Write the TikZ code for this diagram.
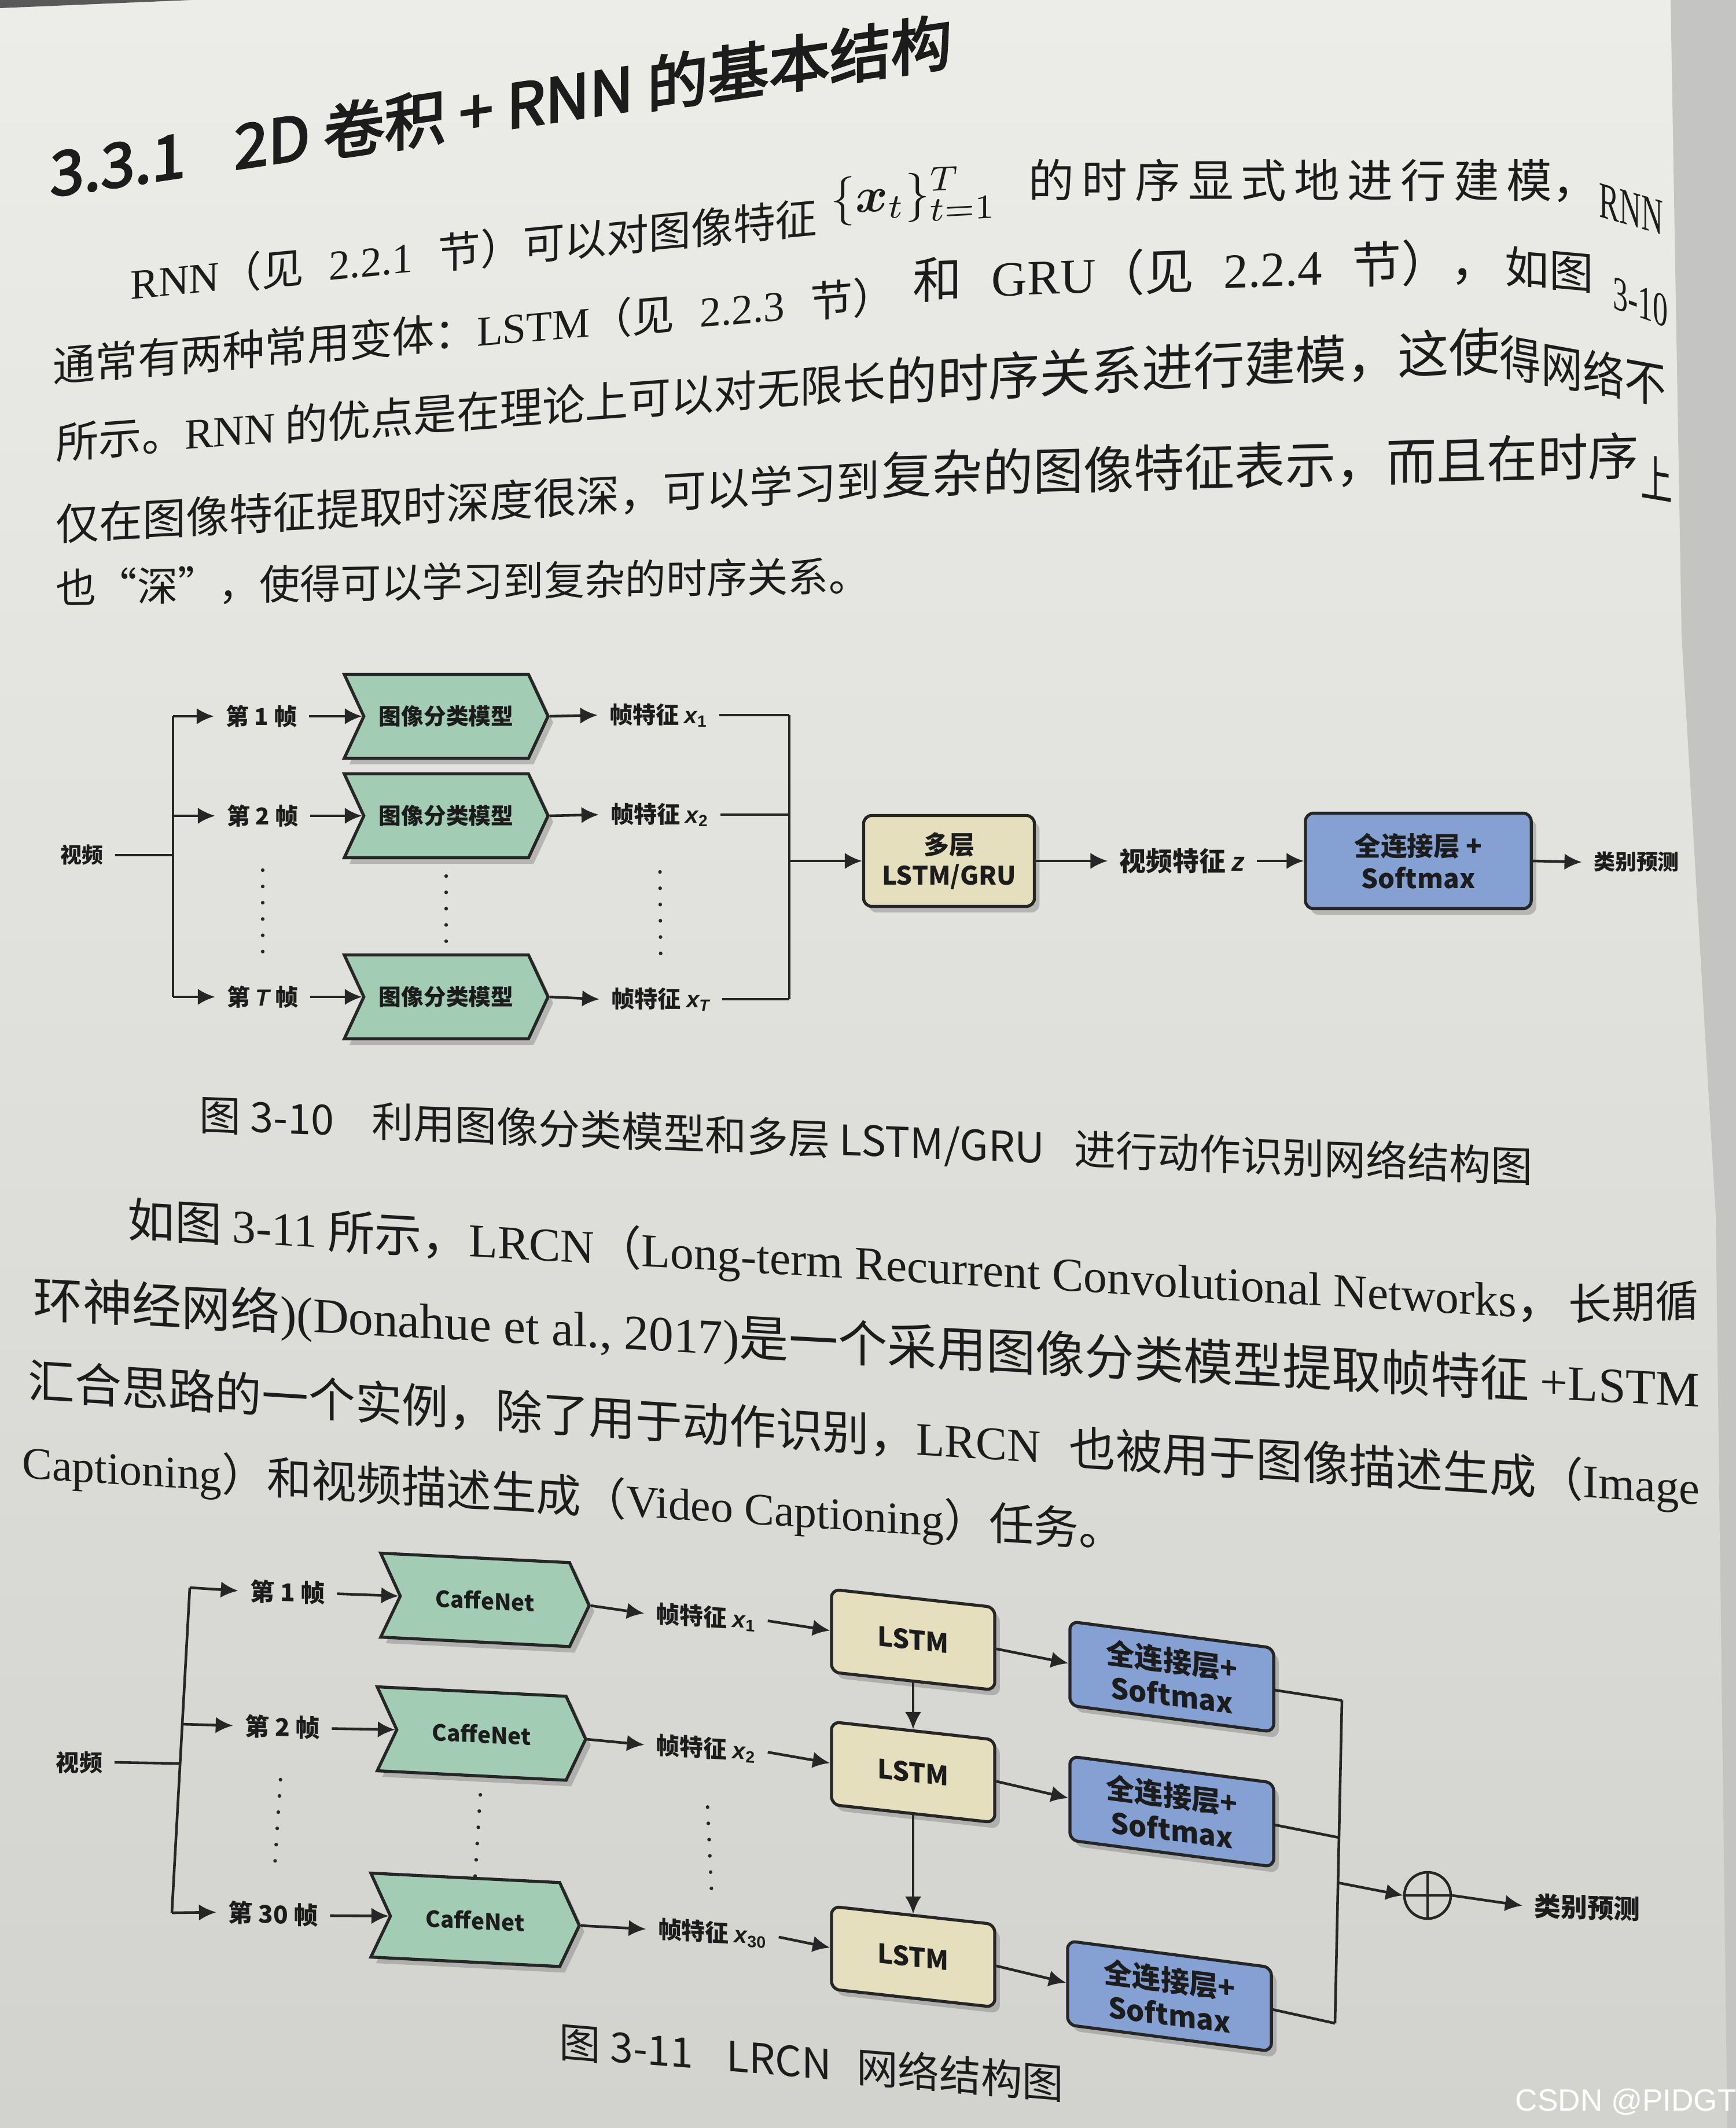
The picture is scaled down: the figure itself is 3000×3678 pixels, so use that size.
\documentclass[tikz,border=0pt]{standalone}
\usepackage{amsmath}
\usepackage{graphicx}
\usepackage{fontspec}
\setmainfont{Noto Sans CJK SC}
\newfontfamily\headfont{Noto Sans CJK SC}[FakeBold=3]
\newfontfamily\tmfont{Liberation Serif}
\newfontfamily\arfont{Liberation Sans}
\usetikzlibrary{positioning, shapes.symbols, shadows, arrows.meta}

\definecolor{papertop}{RGB}{236,236,233}
\definecolor{paperbot}{RGB}{210,210,207}
\definecolor{pageedge}{RGB}{196,196,194}
\definecolor{ink}{RGB}{28,28,28}
\definecolor{stroke}{RGB}{38,38,38}
\definecolor{modelgreen}{RGB}{163,204,181}
\definecolor{lstmbeige}{RGB}{229,223,190}
\definecolor{fcblue}{RGB}{133,161,212}

\newcommand{\en}[1]{{\tmfont #1}}
\newcommand{\gap}{\hspace{0.6em}}
\newcommand{\vx}[1]{{\arfont\itshape x}\textsubscript{\arfont #1}}
% one slanted run of page text: x, y, slant, width, text
\newcommand{\chunk}[5]{\node[txt, yslant=#3] at (#1,#2) {\resizebox{#4}{!}{#5}};}
% the same, squeezed where the page bends away: x, y, slant, width, height, text
\newcommand{\chunkh}[6]{\node[txt, yslant=#3] at (#1,#2) {\resizebox{#4}{#5}{#6}};}

\tikzset{
  txt/.style={anchor=west, inner sep=0pt, text=ink},
  lbl/.style={inner sep=0.2cm, text=ink, font=\bfseries\fontsize{#1}{#1}\selectfont},
  lbl/.default=11.4pt,
  conn/.style={draw=stroke, line width=1.3pt},
  arr/.style={conn, -{Latex[length=8.5pt, width=8pt]}},
  boxshadow/.style={drop shadow={shadow xshift=2.5pt, shadow yshift=-3pt, opacity=0.45}},
  model/.style={signal, signal to=east, signal from=west, signal pointer angle=130,
    draw=stroke, line width=1.5pt, fill=modelgreen, inner sep=0pt, boxshadow,
    text=ink, font=\bfseries\fontsize{#1}{#1}\selectfont},
  model/.default=11pt,
  rbox/.style={rectangle, rounded corners=4pt, draw=stroke, line width=1.5pt,
    align=center, inner sep=0pt, boxshadow, text=ink},
  lstmbox/.style={rbox, fill=lstmbeige},
  fcbox/.style={rbox, fill=fcblue},
  dots/.style={draw=stroke, line width=1.8pt, line cap=round, dash pattern=on 0pt off 8pt},
}

\begin{document}
\begin{tikzpicture}[x=0.01cm, y=-0.01cm]
\useasboundingbox (0,0) rectangle (3000,3678);
% page
\shade[top color=papertop, bottom color=paperbot] (0,0) rectangle (3000,3678);
\fill[pageedge] (2887,0) -- (3000,0) -- (3000,3678) -- (2985,3678) -- (2965,2100) -- (2906,1100) -- cycle;
\fill[black!65] (0,0) -- (330,0) -- (0,14) -- cycle;

% heading and first paragraph
\chunk{86}{300}{0.148}{15.57cm}{\headfont 3.3.1\hspace{0.8em}2D 卷积 + RNN 的基本结构}
\chunk{225}{490}{0.097}{11.86cm}{\en{RNN}（见\gap\en{2.2.1}\gap 节）可以对图像特征}
\chunk{1435}{345}{0.05}{2.87cm}{$\{\boldsymbol{x}_t\}_{t=1}^{T}$}
\chunk{1777}{312}{0}{9.83cm}{的\,时\,序\,显\,式\,地\,进\,行\,建\,模，}
\chunkh{2763}{345}{-0.29}{1.10cm}{0.58cm}{\en{RNN}}
\chunk{91}{633}{0.085}{14.54cm}{通常有两种常用变体：\en{LSTM}（见\gap\en{2.2.3}\gap 节）}
\chunk{1577}{485}{0.035}{10.13cm}{和\gap\en{GRU}（见\gap\en{2.2.4}\gap 节），}
\chunk{2600}{459}{-0.09}{1.53cm}{如图}
\chunkh{2787}{505}{-0.36}{0.95cm}{0.55cm}{\en{3-10}}
\chunk{96}{765}{0.075}{14.33cm}{所示。\en{RNN} 的优点是在理论上可以对无限长}
\chunk{1531}{661}{0.052}{10.60cm}{的时序关系进行建模，这使}
\chunkh{2591}{614}{-0.18}{2.87cm}{0.72cm}{得网络不}
\chunk{96}{907}{0.054}{14.23cm}{仅在图像特征提取时深度很深，可以学习到}
\chunk{1523}{822}{0.026}{13.07cm}{复杂的图像特征表示，而且在时序}
\chunkh{2835}{822}{-0.17}{0.55cm}{0.72cm}{上}
\chunk{96}{1016}{0.015}{14.05cm}{也“深”，使得可以学习到复杂的时序关系。}

% figure 3-10
\node[lbl=10.5pt] (video) at (141,1478) {视频};
\coordinate (split) at (299,1478);
\node[lbl] (frame1) at (452,1238) {第 1 帧};
\node[lbl] (frame2) at (454,1410) {第 2 帧};
\node[lbl] (frameT) at (454,1723) {第 {\arfont\itshape T} 帧};
\node[model, minimum width=3.52cm, minimum height=1.45cm] (cls1) at (771,1238) {图像分类模型};
\node[model, minimum width=3.52cm, minimum height=1.45cm] (cls2) at (771,1410) {图像分类模型};
\node[model, minimum width=3.52cm, minimum height=1.45cm] (clsT) at (771,1723) {图像分类模型};
\node[lbl] (feat1) at (1138,1236) {帧特征 \vx{1}};
\node[lbl] (feat2) at (1140,1408) {帧特征 \vx{2}};
\node[lbl] (featT) at (1142,1727) {帧特征 \vx{\itshape T}};
\coordinate (bus1) at (1364,1236);
\coordinate (busT) at (1364,1727);
\node[lstmbox, minimum width=2.95cm, minimum height=1.57cm,
  font=\bfseries\fontsize{12.5pt}{15pt}\selectfont] (rnn) at (1640,1488) {多层\\LSTM/GRU};
\node[lbl=13pt] (zfeat) at (2043,1488) {视频特征 {\arfont\itshape z}};
\node[fcbox, minimum width=3.9cm, minimum height=1.65cm,
  font=\bfseries\fontsize{13pt}{16pt}\selectfont] (fc) at (2451,1488) {全连接层 +\\Softmax};
\node[lbl=10.5pt] (pred) at (2828,1490) {类别预测};

\draw[conn] (video.east) -- (split);
\draw[conn] (split |- frame1) -- (split |- frameT);
\draw[arr] (split |- frame1) -- (frame1.west);
\draw[arr] (split |- frame2) -- (frame2.west);
\draw[arr] (split |- frameT) -- (frameT.west);
\draw[arr] (frame1.east) -- (cls1.west);
\draw[arr] (frame2.east) -- (cls2.west);
\draw[arr] (frameT.east) -- (clsT.west);
\draw[arr] (cls1.east) -- (feat1.west);
\draw[arr] (cls2.east) -- (feat2.west);
\draw[arr] (clsT.east) -- (featT.west);
\draw[conn] (feat1.east) -- (bus1);
\draw[conn] (feat2.east) -- (feat2.east -| bus1);
\draw[conn] (featT.east) -- (busT);
\draw[conn] (bus1) -- (busT);
\draw[arr] (rnn.west -| bus1) -- (rnn.west);
\draw[arr] (rnn.east) -- (zfeat.west);
\draw[arr] (zfeat.east) -- (fc.west);
\draw[arr] (fc.east) -- (pred.west);
\draw[dots, shorten <=0.54cm, shorten >=0.34cm] (frame2.south) -- (frameT.north);
\draw[dots, shorten <=0.29cm] (cls2.south) -- (clsT.north);
\draw[dots, shorten <=0.58cm, shorten >=0.23cm] (feat2.south) -- (featT.north);

\chunk{344}{1929}{-0.039}{23.02cm}{图 3-10\hspace{0.9em}利用图像分类模型和多层 LSTM/GRU\hspace{0.7em}进行动作识别网络结构图}

% second paragraph
\chunk{220}{2111}{-0.058}{24.80cm}{如图 \en{3-11} 所示，\en{LRCN}（\en{Long-term Recurrent Convolutional Networks}，}
\chunk{2710}{2254}{0.03}{2.25cm}{长期循}
\chunk{57}{2249}{-0.054}{28.78cm}{环神经网络\en{)(Donahue et al., 2017)}是一个采用图像分类模型提取帧特征 \en{+LSTM}}
\chunk{48}{2390}{-0.064}{28.87cm}{汇合思路的一个实例，除了用于动作识别，\en{LRCN}\gap 也被用于图像描述生成（\en{Image}}
\chunk{38}{2530}{-0.063}{19.02cm}{\en{Captioning}）和视频描述生成（\en{Video Captioning}）任务。}

% figure 3-11
\node[lbl] (video2) at (137,3046) {视频};
\coordinate (s1) at (328,2744);
\coordinate (s2) at (315,2980);
\coordinate (s30) at (297,3306);
\coordinate (sv) at (311,3048);
\node[lbl=12pt, yslant=-0.03] (fr1) at (497,2752) {第 1 帧};
\node[lbl=12pt, yslant=-0.03] (fr2) at (488,2985) {第 2 帧};
\node[lbl=12pt, yslant=-0.03] (fr30) at (472,3308) {第 30 帧};
\node[model, yslant=-0.05, minimum width=3.6cm, minimum height=1.45cm] (cn1) at (838,2766) {CaffeNet};
\node[model, yslant=-0.05, minimum width=3.6cm, minimum height=1.45cm] (cn2) at (832,2997) {CaffeNet};
\node[model, yslant=-0.05, minimum width=3.6cm, minimum height=1.45cm] (cn30) at (821,3319) {CaffeNet};
\node[lbl=11.6pt, yslant=-0.06] (ft1) at (1220,2795) {帧特征 \vx{1}};
\node[lbl=11.6pt, yslant=-0.06] (ft2) at (1220,3022) {帧特征 \vx{2}};
\node[lbl=11.6pt, yslant=-0.06] (ft30) at (1231,3341) {帧特征 \vx{30}};
\node[lstmbox, yslant=-0.11, minimum width=2.82cm, minimum height=1.43cm,
  font=\bfseries\fontsize{13pt}{15pt}\selectfont] (ls1) at (1578,2834) {LSTM};
\node[lstmbox, yslant=-0.11, minimum width=2.82cm, minimum height=1.43cm,
  font=\bfseries\fontsize{13pt}{15pt}\selectfont] (ls2) at (1578,3063) {LSTM};
\node[lstmbox, yslant=-0.11, minimum width=2.82cm, minimum height=1.43cm,
  font=\bfseries\fontsize{13pt}{15pt}\selectfont] (ls30) at (1578,3382) {LSTM};
\node[fcbox, yslant=-0.13, minimum width=3.52cm, minimum height=1.45cm,
  font=\bfseries\fontsize{14pt}{17pt}\selectfont] (fc1) at (2025,2898) {全连接层+\\Softmax};
\node[fcbox, yslant=-0.13, minimum width=3.52cm, minimum height=1.45cm,
  font=\bfseries\fontsize{14pt}{17pt}\selectfont] (fc2) at (2025,3131) {全连接层+\\Softmax};
\node[fcbox, yslant=-0.13, minimum width=3.52cm, minimum height=1.45cm,
  font=\bfseries\fontsize{14pt}{17pt}\selectfont] (fc30) at (2021,3450) {全连接层+\\Softmax};
\coordinate (m1) at (2319,2939);
\coordinate (m2) at (2314,3176);
\coordinate (m30) at (2307,3497);
\coordinate (mo) at (2312,3254);
\node[circle, draw=stroke, line width=1.3pt, minimum size=0.8cm, inner sep=0pt,
  path picture={\draw[stroke, line width=1.3pt]
    (path picture bounding box.north) -- (path picture bounding box.south)
    (path picture bounding box.west) -- (path picture bounding box.east);}] (sum) at (2467,3276) {};
\node[lbl=13pt, yslant=-0.03] (cls) at (2743,3297) {类别预测};

\draw[conn] (video2.east) -- (sv);
\draw[conn] (s1) -- (s30);
\draw[arr] (s1) -- (fr1.west);
\draw[arr] (s2) -- (fr2.west);
\draw[arr] (s30) -- (fr30.west);
\draw[arr] (fr1.east) -- (cn1.west);
\draw[arr] (fr2.east) -- (cn2.west);
\draw[arr] (fr30.east) -- (cn30.west);
\draw[arr] (cn1.east) -- (ft1.west);
\draw[arr] (cn2.east) -- (ft2.west);
\draw[arr] (cn30.east) -- (ft30.west);
\draw[arr] (ft1.east) -- (ls1.west);
\draw[arr] (ft2.east) -- (ls2.west);
\draw[arr] (ft30.east) -- (ls30.west);
\draw[arr] (ls1.south) -- (ls2.north);
\draw[arr] (ls2.south) -- (ls30.north);
\draw[arr] (ls1.east) -- (fc1.west);
\draw[arr] (ls2.east) -- (fc2.west);
\draw[arr] (ls30.east) -- (fc30.west);
\draw[conn] (fc1.east) -- (m1);
\draw[conn] (fc2.east) -- (m2);
\draw[conn] (fc30.east) -- (m30);
\draw[conn] (m1) -- (m30);
\draw[arr] (mo) -- (sum.west);
\draw[arr] (sum.east) -- (cls.west);
\draw[dots, shorten <=0.5cm, shorten >=0.3cm] (fr2.south) -- (fr30.north);
\draw[dots, shorten <=0.3cm] (cn2.south) -- (cn30.north);
\draw[dots, shorten <=0.6cm, shorten >=0.3cm] (ft2.south) -- (ft30.north);

\chunk{966}{3528}{-0.083}{8.71cm}{图 3-11\hspace{0.8em}LRCN\hspace{0.6em}网络结构图}
\node[txt, text=white] (mark) at (2618,3633) {\resizebox{3.82cm}{!}{\arfont CSDN @PIDGT}};
\end{tikzpicture}
\end{document}
